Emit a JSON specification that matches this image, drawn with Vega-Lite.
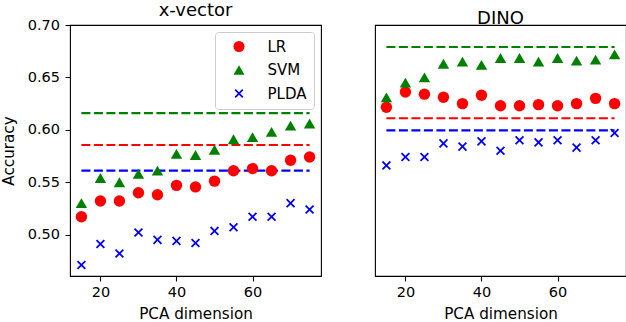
{
  "$schema": "https://vega.github.io/schema/vega-lite/v6.json",
  "padding": {"left": 0, "top": 0, "right": 0, "bottom": 0},
  "config": {
    "font": "DejaVu Sans",
    "view": {"stroke": "#000", "strokeWidth": 1.1},
    "axis": {"grid": false, "domain": false, "tickColor": "#000", "tickSize": 5, "tickWidth": 1.1, "labelFontSize": 14.5, "labelColor": "#000", "titleFontSize": 15.2, "titleFontWeight": "normal", "titleColor": "#000", "labelPadding": 5, "labelFont": "DejaVu Sans", "titleFont": "DejaVu Sans"},
    "axisX": {"titlePadding": 7.5, "labelPadding": 4.5},
    "axisY": {"titlePadding": 11, "labelPadding": 5.5},
    "title": {"fontSize": 18, "fontWeight": "normal", "color": "#000", "offset": -2.5, "baseline": "bottom", "font": "DejaVu Sans"}
  },
  "datasets": {
    "pts": [
      {"model": "x-vector", "method": "LR", "dim": 15, "acc": 0.517},
      {"model": "x-vector", "method": "LR", "dim": 20, "acc": 0.532},
      {"model": "x-vector", "method": "LR", "dim": 25, "acc": 0.532},
      {"model": "x-vector", "method": "LR", "dim": 30, "acc": 0.540},
      {"model": "x-vector", "method": "LR", "dim": 35, "acc": 0.538},
      {"model": "x-vector", "method": "LR", "dim": 40, "acc": 0.547},
      {"model": "x-vector", "method": "LR", "dim": 45, "acc": 0.5455},
      {"model": "x-vector", "method": "LR", "dim": 50, "acc": 0.551},
      {"model": "x-vector", "method": "LR", "dim": 55, "acc": 0.561},
      {"model": "x-vector", "method": "LR", "dim": 60, "acc": 0.563},
      {"model": "x-vector", "method": "LR", "dim": 65, "acc": 0.561},
      {"model": "x-vector", "method": "LR", "dim": 70, "acc": 0.571},
      {"model": "x-vector", "method": "LR", "dim": 75, "acc": 0.574},
      {"model": "x-vector", "method": "SVM", "dim": 15, "acc": 0.530},
      {"model": "x-vector", "method": "SVM", "dim": 20, "acc": 0.554},
      {"model": "x-vector", "method": "SVM", "dim": 25, "acc": 0.550},
      {"model": "x-vector", "method": "SVM", "dim": 30, "acc": 0.558},
      {"model": "x-vector", "method": "SVM", "dim": 35, "acc": 0.561},
      {"model": "x-vector", "method": "SVM", "dim": 40, "acc": 0.577},
      {"model": "x-vector", "method": "SVM", "dim": 45, "acc": 0.576},
      {"model": "x-vector", "method": "SVM", "dim": 50, "acc": 0.581},
      {"model": "x-vector", "method": "SVM", "dim": 55, "acc": 0.591},
      {"model": "x-vector", "method": "SVM", "dim": 60, "acc": 0.593},
      {"model": "x-vector", "method": "SVM", "dim": 65, "acc": 0.598},
      {"model": "x-vector", "method": "SVM", "dim": 70, "acc": 0.604},
      {"model": "x-vector", "method": "SVM", "dim": 75, "acc": 0.606},
      {"model": "x-vector", "method": "PLDA", "dim": 15, "acc": 0.471},
      {"model": "x-vector", "method": "PLDA", "dim": 20, "acc": 0.491},
      {"model": "x-vector", "method": "PLDA", "dim": 25, "acc": 0.482},
      {"model": "x-vector", "method": "PLDA", "dim": 30, "acc": 0.502},
      {"model": "x-vector", "method": "PLDA", "dim": 35, "acc": 0.495},
      {"model": "x-vector", "method": "PLDA", "dim": 40, "acc": 0.494},
      {"model": "x-vector", "method": "PLDA", "dim": 45, "acc": 0.492},
      {"model": "x-vector", "method": "PLDA", "dim": 50, "acc": 0.5035},
      {"model": "x-vector", "method": "PLDA", "dim": 55, "acc": 0.507},
      {"model": "x-vector", "method": "PLDA", "dim": 60, "acc": 0.517},
      {"model": "x-vector", "method": "PLDA", "dim": 65, "acc": 0.517},
      {"model": "x-vector", "method": "PLDA", "dim": 70, "acc": 0.530},
      {"model": "x-vector", "method": "PLDA", "dim": 75, "acc": 0.524},
      {"model": "DINO", "method": "LR", "dim": 15, "acc": 0.6215},
      {"model": "DINO", "method": "LR", "dim": 20, "acc": 0.636},
      {"model": "DINO", "method": "LR", "dim": 25, "acc": 0.634},
      {"model": "DINO", "method": "LR", "dim": 30, "acc": 0.631},
      {"model": "DINO", "method": "LR", "dim": 35, "acc": 0.625},
      {"model": "DINO", "method": "LR", "dim": 40, "acc": 0.633},
      {"model": "DINO", "method": "LR", "dim": 45, "acc": 0.623},
      {"model": "DINO", "method": "LR", "dim": 50, "acc": 0.623},
      {"model": "DINO", "method": "LR", "dim": 55, "acc": 0.624},
      {"model": "DINO", "method": "LR", "dim": 60, "acc": 0.623},
      {"model": "DINO", "method": "LR", "dim": 65, "acc": 0.625},
      {"model": "DINO", "method": "LR", "dim": 70, "acc": 0.630},
      {"model": "DINO", "method": "LR", "dim": 75, "acc": 0.625},
      {"model": "DINO", "method": "SVM", "dim": 15, "acc": 0.631},
      {"model": "DINO", "method": "SVM", "dim": 20, "acc": 0.645},
      {"model": "DINO", "method": "SVM", "dim": 25, "acc": 0.650},
      {"model": "DINO", "method": "SVM", "dim": 30, "acc": 0.663},
      {"model": "DINO", "method": "SVM", "dim": 35, "acc": 0.665},
      {"model": "DINO", "method": "SVM", "dim": 40, "acc": 0.662},
      {"model": "DINO", "method": "SVM", "dim": 45, "acc": 0.6685},
      {"model": "DINO", "method": "SVM", "dim": 50, "acc": 0.6685},
      {"model": "DINO", "method": "SVM", "dim": 55, "acc": 0.665},
      {"model": "DINO", "method": "SVM", "dim": 60, "acc": 0.6685},
      {"model": "DINO", "method": "SVM", "dim": 65, "acc": 0.666},
      {"model": "DINO", "method": "SVM", "dim": 70, "acc": 0.667},
      {"model": "DINO", "method": "SVM", "dim": 75, "acc": 0.672},
      {"model": "DINO", "method": "PLDA", "dim": 15, "acc": 0.566},
      {"model": "DINO", "method": "PLDA", "dim": 20, "acc": 0.574},
      {"model": "DINO", "method": "PLDA", "dim": 25, "acc": 0.574},
      {"model": "DINO", "method": "PLDA", "dim": 30, "acc": 0.587},
      {"model": "DINO", "method": "PLDA", "dim": 35, "acc": 0.584},
      {"model": "DINO", "method": "PLDA", "dim": 40, "acc": 0.589},
      {"model": "DINO", "method": "PLDA", "dim": 45, "acc": 0.580},
      {"model": "DINO", "method": "PLDA", "dim": 50, "acc": 0.590},
      {"model": "DINO", "method": "PLDA", "dim": 55, "acc": 0.588},
      {"model": "DINO", "method": "PLDA", "dim": 60, "acc": 0.590},
      {"model": "DINO", "method": "PLDA", "dim": 65, "acc": 0.583},
      {"model": "DINO", "method": "PLDA", "dim": 70, "acc": 0.590},
      {"model": "DINO", "method": "PLDA", "dim": 75, "acc": 0.597}
    ],
    "base": [
      {"model": "x-vector", "method": "LR", "from": 15, "to": 75, "acc": 0.5855},
      {"model": "x-vector", "method": "SVM", "from": 15, "to": 75, "acc": 0.616},
      {"model": "x-vector", "method": "PLDA", "from": 15, "to": 75, "acc": 0.561},
      {"model": "DINO", "method": "LR", "from": 15, "to": 75, "acc": 0.611},
      {"model": "DINO", "method": "SVM", "from": 15, "to": 75, "acc": 0.679},
      {"model": "DINO", "method": "PLDA", "from": 15, "to": 75, "acc": 0.5995}
    ]
  },
  "spacing": 52,
  "resolve": {"legend": {"color": "independent", "shape": "independent"}},
  "hconcat": [
    {
      "title": "x-vector",
      "width": 251,
      "height": 251,
      "layer": [
        {
          "data": {"name": "base"},
          "transform": [{"filter": "datum.model === 'x-vector'"}],
          "mark": {"type": "rule", "strokeDash": [9, 3.5], "strokeWidth": 2.2},
          "encoding": {
            "x": {"field": "from", "type": "quantitative", "scale": {"domain": [12, 78], "nice": false, "zero": false}, "axis": {"title": "PCA dimension", "values": [20, 40, 60]}},
            "x2": {"field": "to"},
            "y": {"field": "acc", "type": "quantitative", "scale": {"domain": [0.4605, 0.70], "nice": false, "zero": false}, "axis": {"title": "Accuracy", "values": [0.5, 0.55, 0.6, 0.65, 0.7], "format": ".2f"}},
            "stroke": {"field": "method", "type": "nominal", "scale": {"domain": ["LR", "SVM", "PLDA"], "range": ["#ff0000", "#008000", "#0000ff"]}, "legend": null}
          }
        },
        {
          "data": {"name": "pts"},
          "transform": [{"filter": "datum.model === 'x-vector'"}],
          "mark": {"type": "point", "filled": true, "opacity": 1, "size": 130},
          "encoding": {
            "x": {"field": "dim", "type": "quantitative", "scale": {"domain": [12, 78], "nice": false, "zero": false}, "axis": {"title": "PCA dimension", "values": [20, 40, 60]}},
            "y": {"field": "acc", "type": "quantitative", "scale": {"domain": [0.4605, 0.70], "nice": false, "zero": false}, "axis": {"title": "Accuracy", "values": [0.5, 0.55, 0.6, 0.65, 0.7], "format": ".2f"}},
            "color": {"field": "method", "type": "nominal", "scale": {"domain": ["LR", "SVM", "PLDA"], "range": ["#ff0000", "#008000", "#0000ff"]},
              "legend": {"orient": "top-right", "offset": 7, "title": null, "fillColor": "#ffffff", "strokeColor": "#cccccc", "cornerRadius": 3, "padding": 7, "labelFontSize": 15, "labelColor": "#000", "symbolSize": 121, "labelOffset": 21, "rowPadding": 7.5, "symbolOffset": 9.5}},
            "shape": {"field": "method", "type": "nominal", "scale": {"domain": ["LR", "SVM", "PLDA"], "range": ["circle", "triangle-up", "M-0.58,-0.8L0,-0.22L0.58,-0.8L0.8,-0.58L0.22,0L0.8,0.58L0.58,0.8L0,0.22L-0.58,0.8L-0.8,0.58L-0.22,0L-0.8,-0.58Z"]},
              "legend": {"orient": "top-right", "offset": 7, "title": null, "fillColor": "#ffffff", "strokeColor": "#cccccc", "cornerRadius": 3, "padding": 7, "labelFontSize": 15, "labelColor": "#000", "symbolSize": 121, "labelOffset": 21, "rowPadding": 7.5, "symbolOffset": 9.5}}
          }
        }
      ]
    },
    {
      "title": "DINO",
      "width": 251,
      "height": 251,
      "layer": [
        {
          "data": {"name": "base"},
          "transform": [{"filter": "datum.model === 'DINO'"}],
          "mark": {"type": "rule", "strokeDash": [9, 3.5], "strokeWidth": 2.2},
          "encoding": {
            "x": {"field": "from", "type": "quantitative", "scale": {"domain": [12, 78], "nice": false, "zero": false}, "axis": {"title": "PCA dimension", "values": [20, 40, 60]}},
            "x2": {"field": "to"},
            "y": {"field": "acc", "type": "quantitative", "scale": {"domain": [0.4605, 0.70], "nice": false, "zero": false}, "axis": null},
            "stroke": {"field": "method", "type": "nominal", "scale": {"domain": ["LR", "SVM", "PLDA"], "range": ["#ff0000", "#008000", "#0000ff"]}, "legend": null}
          }
        },
        {
          "data": {"name": "pts"},
          "transform": [{"filter": "datum.model === 'DINO'"}],
          "mark": {"type": "point", "filled": true, "opacity": 1, "size": 130},
          "encoding": {
            "x": {"field": "dim", "type": "quantitative", "scale": {"domain": [12, 78], "nice": false, "zero": false}, "axis": {"title": "PCA dimension", "values": [20, 40, 60]}},
            "y": {"field": "acc", "type": "quantitative", "scale": {"domain": [0.4605, 0.70], "nice": false, "zero": false}, "axis": null},
            "color": {"field": "method", "type": "nominal", "scale": {"domain": ["LR", "SVM", "PLDA"], "range": ["#ff0000", "#008000", "#0000ff"]}, "legend": null},
            "shape": {"field": "method", "type": "nominal", "scale": {"domain": ["LR", "SVM", "PLDA"], "range": ["circle", "triangle-up", "M-0.58,-0.8L0,-0.22L0.58,-0.8L0.8,-0.58L0.22,0L0.8,0.58L0.58,0.8L0,0.22L-0.58,0.8L-0.8,0.58L-0.22,0L-0.8,-0.58Z"]}, "legend": null}
          }
        }
      ]
    }
  ]
}
